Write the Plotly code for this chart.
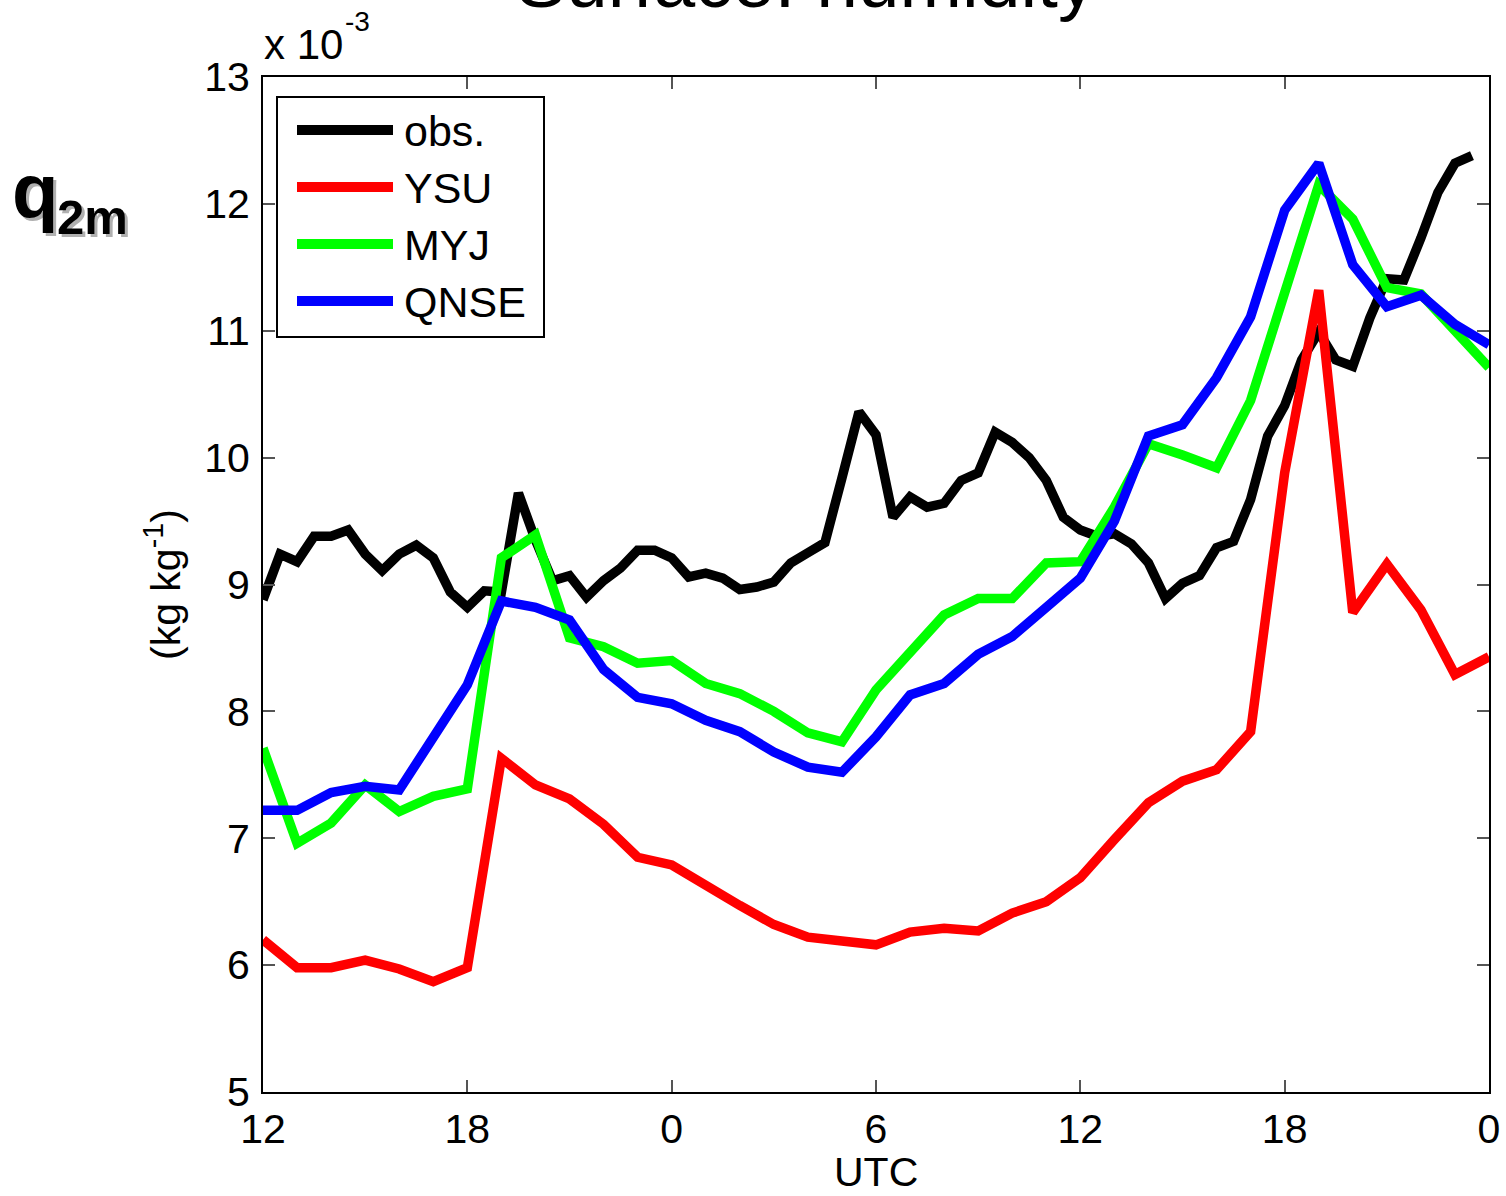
import numpy as np
import plotly.graph_objects as go

# ---------------- data (values in units of 1e-3 kg/kg) ----------------
obs_hours = list(np.arange(0, 36, 0.5))        # half-hourly from 12 UTC
model_hours = list(range(0, 37))                # hourly from 12 UTC

obs = [8.88, 9.24, 9.18, 9.38, 9.38, 9.43, 9.24, 9.11, 9.24, 9.31,
       9.21, 8.94, 8.82, 8.95, 8.94, 9.72, 9.35, 9.03, 9.07, 8.90,
       9.03, 9.13, 9.27, 9.27, 9.21, 9.06, 9.09, 9.05, 8.96, 8.98,
       9.02, 9.17, 9.25, 9.33, 9.84, 10.36, 10.18, 9.53, 9.69, 9.61,
       9.64, 9.82, 9.88, 10.20, 10.12, 10.00, 9.82, 9.53, 9.43, 9.38,
       9.40, 9.32, 9.17, 8.89, 9.01, 9.07, 9.29, 9.34, 9.67, 10.17,
       10.41, 10.77, 10.99, 10.77, 10.72, 11.10, 11.41, 11.40, 11.73, 12.09,
       12.32, 12.38]

ysu = [6.20, 5.98, 5.98, 6.04, 5.97, 5.87, 5.98, 7.63, 7.42, 7.31,
       7.11, 6.85, 6.79, 6.62, 6.47, 6.32, 6.22, 6.19, 6.16, 6.26,
       6.29, 6.27, 6.41, 6.50, 6.69, 6.99, 7.28, 7.45, 7.54, 7.84,
       9.88, 11.32, 8.78, 9.16, 8.80, 8.29, 8.43]

myj = [7.71, 6.96, 7.12, 7.42, 7.21, 7.33, 7.39, 9.21, 9.39, 8.58,
       8.51, 8.38, 8.40, 8.22, 8.14, 8.00, 7.83, 7.76, 8.17, 8.47,
       8.76, 8.89, 8.89, 9.17, 9.18, 9.61, 10.11, 10.02, 9.92, 10.45,
       11.31, 12.15, 11.88, 11.34, 11.29, 11.01, 10.71]

qnse = [7.22, 7.22, 7.36, 7.41, 7.38, 7.78, 8.21, 8.87, 8.82, 8.72,
        8.33, 8.11, 8.06, 7.93, 7.84, 7.68, 7.56, 7.52, 7.80, 8.13,
        8.22, 8.45, 8.59, 8.82, 9.05, 9.50, 10.17, 10.26, 10.63, 11.11,
        11.95, 12.32, 11.52, 11.19, 11.28, 11.05, 10.89]

series_names = ["obs.", "YSU", "MYJ", "QNSE"]
series_colors = ["#000000", "#ff0000", "#00ff00", "#0000ff"]

x_tickvals = [0, 6, 12, 18, 24, 30, 36]
x_ticktext = ["12", "18", "0", "6", "12", "18", "0"]
y_tickvals = [5, 6, 7, 8, 9, 10, 11, 12, 13]

# ---------------- layout geometry ----------------
W, H = 1506, 1196
ML, MR, MT, MB = 263, 17, 77, 104
PW, PH = W - ML - MR, H - MT - MB
FONT = "Liberation Sans, Arial, Helvetica, sans-serif"


def px(x):
    return (x - ML) / PW


def py(y):
    return (H - MB - y) / PH


fig = go.Figure()
xs = [obs_hours, model_hours, model_hours, model_hours]
ys = [obs, ysu, myj, qnse]
for name, color, xv, yv in zip(series_names, series_colors, xs, ys):
    fig.add_trace(go.Scatter(x=xv, y=yv, mode="lines", name=name,
                             line=dict(color=color, width=9.5),
                             showlegend=False))

annotations = []


def ann(text, x, y, size, xanchor="left", yanchor="bottom", color="black",
        textangle=0):
    annotations.append(dict(text=text, x=px(x), y=py(y), xref="paper",
                            yref="paper", showarrow=False, xanchor=xanchor,
                            yanchor=yanchor, borderpad=0, textangle=textangle,
                            font=dict(family=FONT, size=size, color=color)))


# title (partly cut off at top, as in the original figure)
ann("Surface: humidity", 806, 8 + 0.212 * 75, 75, xanchor="center")
# exponent label
ann("x 10", 263, 60 + 0.212 * 42, 42)
ann("-3", 344, 32 + 0.212 * 28, 28)
# y-axis label
ann("(kg kg<sup>-1</sup>)", 163, 585, 41, xanchor="center", yanchor="middle",
    textangle=-90)
# x-axis label
ann("UTC", 876, 1196, 41, xanchor="center")
# q2m label with shadow
for dx, col in [(3, "#b0b0b0"), (0, "black")]:
    ann("<b>q</b>", 11 + dx, 218 + dx + 0.212 * 76, 76, color=col)
    ann("<b>2m</b>", 56 + dx, 235 + dx + 0.212 * 49, 49, color=col)

# custom legend
shapes = [dict(type="rect", xref="paper", yref="paper",
               x0=px(277), x1=px(544), y0=py(97), y1=py(337),
               line=dict(color="black", width=2), fillcolor="white",
               layer="above")]
leg_y = [130, 187, 244, 301]
for name, color, ly in zip(series_names, series_colors, leg_y):
    shapes.append(dict(type="line", xref="paper", yref="paper",
                       x0=px(297), x1=px(393), y0=py(ly), y1=py(ly),
                       line=dict(color=color, width=10), layer="above"))
    ann(name, 403, ly + 1, 43, yanchor="middle")

axis_common = dict(showgrid=False, zeroline=False, showline=True,
                   linecolor="black", linewidth=2, mirror="ticks",
                   ticks="inside", ticklen=12, tickwidth=1.5,
                   tickcolor="#555555", automargin=False,
                   ticklabeloverflow="allow",
                   tickfont=dict(family=FONT, size=41, color="black"))

fig.update_layout(
    width=W, height=H, autosize=False,
    margin=dict(l=ML, r=MR, t=MT, b=MB, pad=0, autoexpand=False),
    paper_bgcolor="white", plot_bgcolor="white",
    xaxis=dict(range=[0, 36], tickvals=x_tickvals, ticktext=x_ticktext,
               ticklabelstandoff=0, **axis_common),
    yaxis=dict(range=[5, 13], tickvals=y_tickvals, ticklabelstandoff=3,
               **axis_common),
    annotations=annotations,
    shapes=shapes,
    showlegend=False,
)

fig.write_html("out.html")
